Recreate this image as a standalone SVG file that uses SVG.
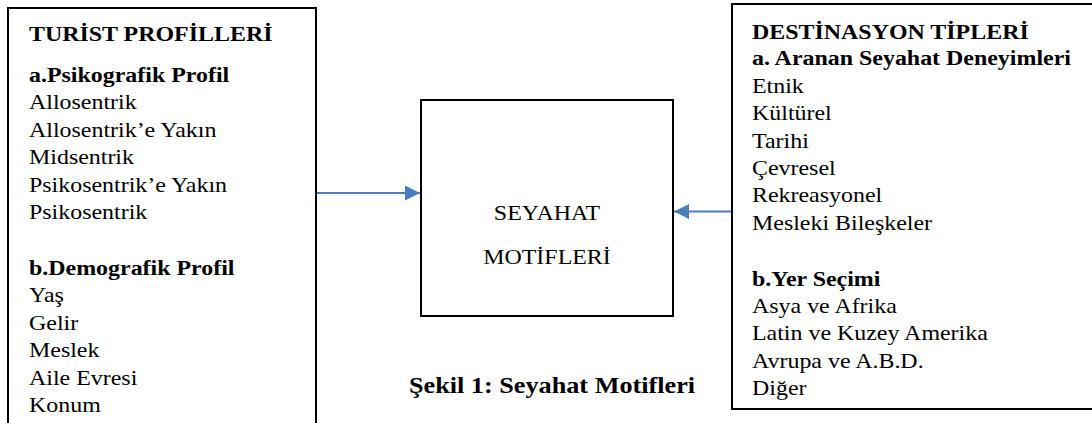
<svg xmlns="http://www.w3.org/2000/svg" width="1092" height="423" viewBox="0 0 1092 423" font-family="'Liberation Serif', 'Times New Roman', serif">
<defs>
<style>
.box{fill:#fff;stroke:#000;stroke-width:2}
.t{font-size:21px;fill:#000}
.b{font-weight:bold}
.conn{stroke:#4a7ebb;stroke-width:2.2;fill:none}
</style>
<marker id="ah" viewBox="0 0 10 10" refX="10" refY="5" markerUnits="userSpaceOnUse" markerWidth="16" markerHeight="15" orient="auto">
<path d="M0,0 L10,5 L0,10 z" fill="#4a7ebb"/>
</marker>
</defs>
<rect width="1092" height="423" fill="#fff"/>
<g id="turist-profilleri">
<rect class="box" x="8" y="8" width="308" height="430"/>
<g class="t" font-family="'Liberation Serif', serif" transform="translate(29,0) scale(1.14,1)">
<text class="b" x="0" y="41">TURİST PROFİLLERİ</text>
<text class="b" x="0" y="82">a.Psikografik Profil</text>
<text x="0" y="109.5">Allosentrik</text>
<text x="0" y="137">Allosentrik’e Yakın</text>
<text x="0" y="164.5">Midsentrik</text>
<text x="0" y="192">Psikosentrik’e Yakın</text>
<text x="0" y="219.5">Psikosentrik</text>
<text class="b" x="0" y="275">b.Demografik Profil</text>
<text x="0" y="302.5">Yaş</text>
<text x="0" y="330">Gelir</text>
<text x="0" y="357.5">Meslek</text>
<text x="0" y="385">Aile Evresi</text>
<text x="0" y="412.5">Konum</text>
</g>
</g>
<g id="seyahat-motifleri">
<rect class="box" x="421" y="100" width="252" height="216"/>
<g class="t" font-family="'Liberation Serif', serif" transform="translate(547,0) scale(1.14,1)">
<text x="0" y="220" text-anchor="middle">SEYAHAT</text>
<text x="0" y="264" text-anchor="middle">MOTİFLERİ</text>
</g>
</g>
<g id="destinasyon-tipleri">
<rect class="box" x="732" y="4" width="380" height="405"/>
<g class="t" font-family="'Liberation Serif', serif" transform="translate(752,0) scale(1.14,1)">
<text class="b" x="0" y="39">DESTİNASYON TİPLERİ</text>
<text class="b" x="0" y="65.5">a. Aranan Seyahat Deneyimleri</text>
<text x="0" y="93">Etnik</text>
<text x="0" y="120.5">Kültürel</text>
<text x="0" y="148">Tarihi</text>
<text x="0" y="175">Çevresel</text>
<text x="0" y="202.5">Rekreasyonel</text>
<text x="0" y="230">Mesleki Bileşkeler</text>
<text class="b" x="0" y="286">b.Yer Seçimi</text>
<text x="0" y="313">Asya ve Afrika</text>
<text x="0" y="340.5">Latin ve Kuzey Amerika</text>
<text x="0" y="368">Avrupa ve A.B.D.</text>
<text x="0" y="395">Diğer</text>
</g>
</g>
<g id="connectors">
<line class="conn" x1="317" y1="193" x2="420" y2="193" marker-end="url(#ah)"/>
<line class="conn" x1="731" y1="211.5" x2="674" y2="211.5" marker-end="url(#ah)"/>
</g>
<g id="caption" class="t" font-family="'Liberation Serif', serif" transform="translate(552,0) scale(1.14,1)">
<text class="b" x="0" y="393" text-anchor="middle" font-size="23">Şekil 1: Seyahat Motifleri</text>
</g>
</svg>
